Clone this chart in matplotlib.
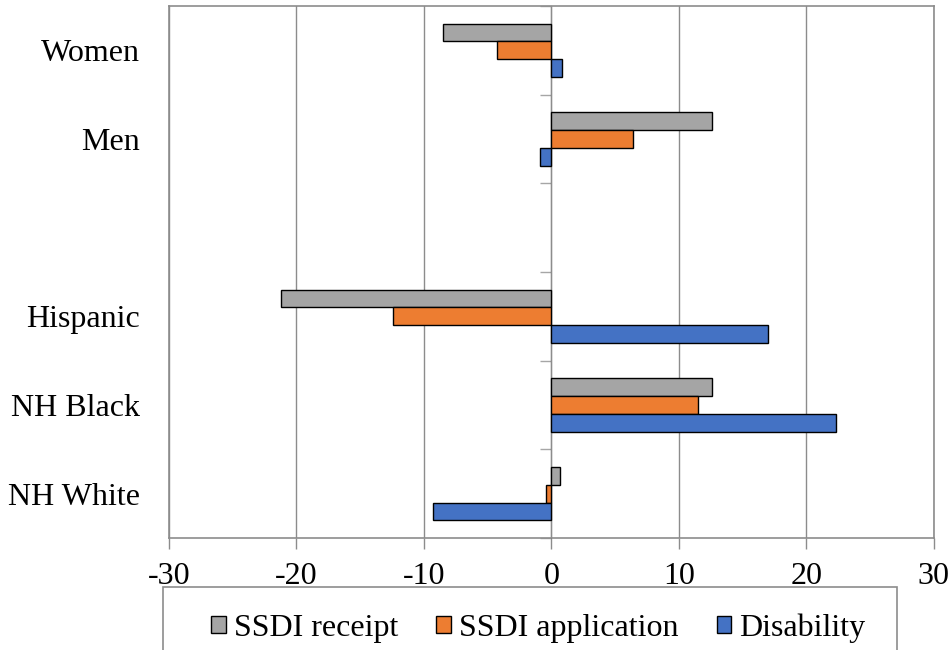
import numpy as np
import matplotlib
matplotlib.use("Agg")
import matplotlib.pyplot as plt
from matplotlib.patches import Rectangle

plt.rcParams['font.family'] = ['Liberation Serif', 'DejaVu Serif']

categories = ["Women", "Men", "", "Hispanic", "NH Black", "NH White"]
series_names = ["SSDI receipt", "SSDI application", "Disability"]
ssdi_receipt = [-8.5, 12.6, np.nan, -21.2, 12.6, 0.7]
ssdi_application = [-4.3, 6.4, np.nan, -12.4, 11.5, -0.4]
disability = [0.8, -0.9, np.nan, 17.0, 22.3, -9.3]
x_ticks = [-30, -20, -10, 0, 10, 20, 30]

colors = ["#A5A5A5", "#ED7D31", "#4472C4"]
grid_col = "#8C8C8C"

fig = plt.figure(figsize=(9.51, 6.5), dpi=100)
ax = fig.add_axes([0.1777, 0.1723, 0.8043, 0.8185])

y = np.arange(len(categories))
h = 0.2
for i, (vals, name, c) in enumerate(zip([ssdi_receipt, ssdi_application, disability],
                                         series_names, colors)):
    ax.barh(y + (i - 1) * h, vals, height=h, color=c, edgecolor="black",
            linewidth=1.0, label=name, zorder=3)

ax.set_xlim(-30, 30)
ax.set_ylim(len(categories) - 0.5, -0.5)
ax.set_xticks(x_ticks)
ax.set_xticklabels([str(v) for v in x_ticks], fontsize=23)
ax.tick_params(axis='x', direction='out', length=8, width=1, color=grid_col, pad=9)
ax.xaxis.grid(True, color=grid_col, linewidth=1, zorder=0)
ax.set_axisbelow(True)

ax.set_yticks(y)
ax.set_yticklabels(categories, fontsize=23)
ax.tick_params(axis='y', length=0, pad=21)

for s in ax.spines.values():
    s.set_color(grid_col)
    s.set_linewidth(1.2)

# category axis crossing at x = 0 with boundary tick marks
sec = ax.secondary_yaxis(0.5)
sec.set_yticks(np.arange(-0.5, len(categories), 1.0))
sec.set_yticklabels([])
sec.tick_params(axis='y', direction='in', length=8, width=1, color="#A6A6A6")
sec.spines['left'].set_color("#A6A6A6")
sec.spines['left'].set_linewidth(1.2)

# legend below the plot, inside a plain box
handles, labels = ax.get_legend_handles_labels()
leg = fig.legend(handles, labels, loc='upper center', bbox_to_anchor=(0.566, 0.074),
                 ncol=3, fontsize=23, frameon=False,
                 handlelength=0.45, handleheight=0.45, handletextpad=0.25,
                 columnspacing=1.2, borderpad=0.35, borderaxespad=0)
fig.patches.append(Rectangle((163 / 951, -0.02), (897 - 163) / 951, 0.097 + 0.02,
                             transform=fig.transFigure, fill=False,
                             edgecolor=grid_col, linewidth=1.2))

fig.savefig("out.png", dpi=100)
